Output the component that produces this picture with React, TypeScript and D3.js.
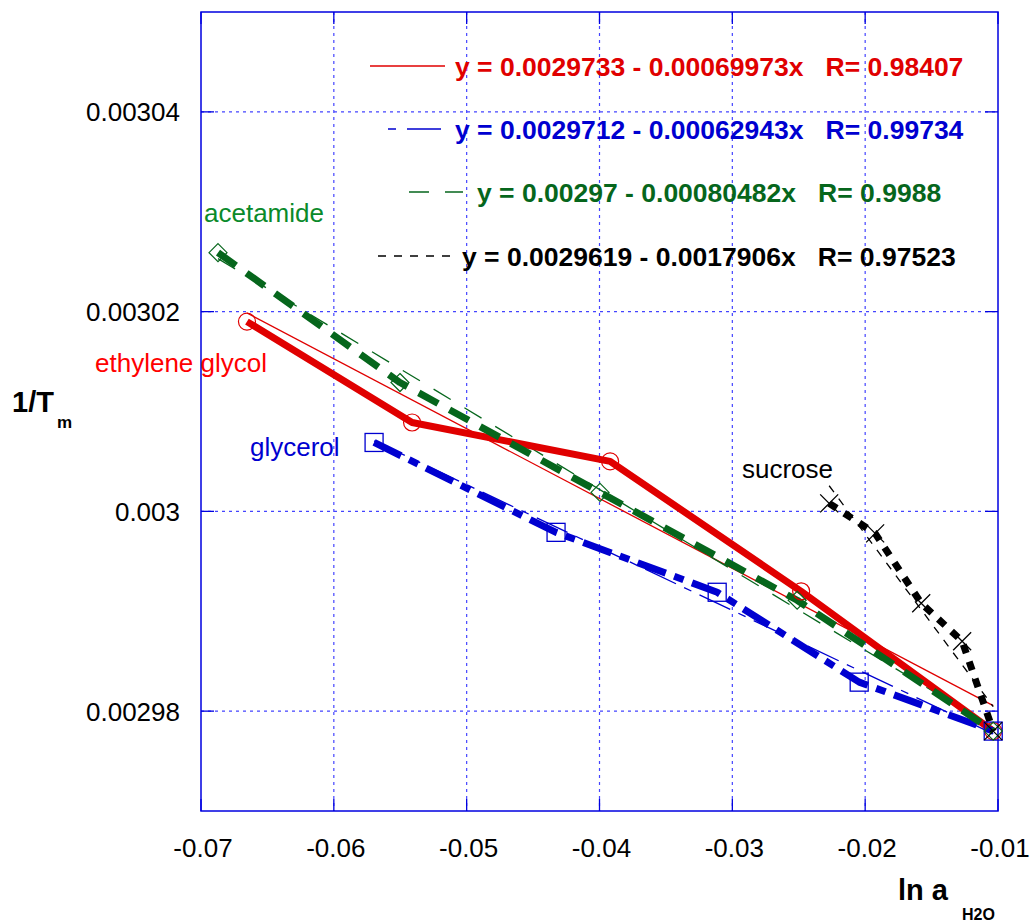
import React from 'react'
import { scaleLinear, line } from 'd3'

// points: ln a(H2O) vs 1/Tm
const glycolX = [-0.06654, -0.05411, -0.0392, -0.02482, -0.01036]
const glycolY = [0.003019, 0.0030089, 0.003005, 0.002992, 0.002978]
const acetamideX = [-0.06872, -0.05502, -0.03996, -0.02512, -0.01036]
const acetamideY = [0.0030259, 0.0030129, 0.0030019, 0.0029911, 0.002978]
const glycerolX = [-0.05697, -0.04327, -0.03114, -0.02045, -0.01036]
const glycerolY = [0.0030069, 0.0029979, 0.0029919, 0.0029829, 0.002978]
const sucroseX = [-0.02271, -0.01925, -0.01578, -0.0127, -0.01036]
const sucroseY = [0.0030008, 0.0029978, 0.0029908, 0.002987, 0.002978]

// linear fits y = a + b x, as printed in the legend
const fitA = [0.0029733, 0.0029712, 0.00297, 0.0029619]
const fitB = [-0.00069973, -0.00062943, -0.00080482, -0.0017906]
const fitR = ['0.98407', '0.99734', '0.9988', '0.97523']

const xTicks = [-0.07, -0.06, -0.05, -0.04, -0.03, -0.02, -0.01]
const yTicks = [0.00298, 0.003, 0.00302, 0.00304]
const yTickLabels = ['0.00298', '0.003', '0.00302', '0.00304']

const W = 1034
const H = 923
const left = 201, right = 998, top = 12, bottom = 811

const RED = '#e00000'
const BLUE = '#0000d0'
const GREEN = '#06661c'
const BLACK = '#000000'
const FONT = '"Liberation Sans", Arial, Helvetica, sans-serif'

const App = () => {
  const x = scaleLinear().domain([-0.07, -0.01]).range([left, right])
  const y = scaleLinear().domain([0.00297, 0.00305]).range([bottom, top])

  const path = line<[number, number]>()
    .x((d) => x(d[0]))
    .y((d) => y(d[1]))

  const zip = (xs: number[], ys: number[]) => xs.map((v, i) => [v, ys[i]] as [number, number])

  const series = [
    { name: 'glycol', xs: glycolX, ys: glycolY, color: RED, dash: null, fitDash: null, marker: 'circle' },
    { name: 'glycerol', xs: glycerolX, ys: glycerolY, color: BLUE, dash: '30 9 10 9', fitDash: '34 9 8 9', marker: 'square' },
    { name: 'acetamide', xs: acetamideX, ys: acetamideY, color: GREEN, dash: '22 13', fitDash: '20 16', marker: 'diamond' },
    { name: 'sucrose', xs: sucroseX, ys: sucroseY, color: BLACK, dash: '9 9', fitDash: '8 8', marker: 'cross' },
  ]

  const fitLine = (i: number) => {
    const s = series[i]
    const x0 = s.xs[0]
    const x1 = s.xs[s.xs.length - 1]
    return path([
      [x0, fitA[i] + fitB[i] * x0],
      [x1, fitA[i] + fitB[i] * x1],
    ])
  }

  const marker = (kind: string, px: number, py: number, color: string, key: string) => {
    if (kind === 'circle') return <circle key={key} cx={px} cy={py} r={8.5} fill='none' stroke={color} strokeWidth={1.2} />
    if (kind === 'square') return <rect key={key} x={px - 9} y={py - 9} width={18} height={18} fill='none' stroke={color} strokeWidth={1.3} />
    if (kind === 'diamond')
      return (
        <path key={key} d={`M${px} ${py - 9}L${px + 9} ${py}L${px} ${py + 9}L${px - 9} ${py}Z`} fill='none' stroke={color} strokeWidth={1.2} />
      )
    return (
      <path key={key} d={`M${px - 9} ${py - 9}L${px + 9} ${py + 9}M${px - 9} ${py + 9}L${px + 9} ${py - 9}`} stroke={color} strokeWidth={1.3} />
    )
  }

  const legend = [
    { color: RED, y: 66, x1: 370, x2: 445, tx: 455, dash: null },
    { color: BLUE, y: 129, x1: 388, x2: 441, tx: 455, dash: '8 11 34 0' },
    { color: GREEN, y: 192, x1: 409, x2: 463, tx: 477, dash: '20 16' },
    { color: BLACK, y: 256, x1: 378, x2: 454, tx: 462, dash: '8 8' },
  ]

  return (
    <svg width={W} height={H} style={{ position: 'absolute', left: 0, top: 0, background: '#fff' }} fontFamily={FONT}>
      {/* grid */}
      <g stroke='#4444ff' strokeWidth={1.2} strokeDasharray='3 4'>
        {xTicks.slice(1, -1).map((t) => (
          <line key={'gx' + t} x1={x(t)} x2={x(t)} y1={top} y2={bottom} />
        ))}
        {yTicks.map((t) => (
          <line key={'gy' + t} x1={left} x2={right} y1={y(t)} y2={y(t)} />
        ))}
      </g>

      {/* frame + inward ticks */}
      <rect x={left} y={top} width={right - left} height={bottom - top} fill='none' stroke='#0000e0' strokeWidth={1.5} />
      <g stroke='#0000e0' strokeWidth={1.3}>
        {xTicks.map((t) => (
          <g key={'tx' + t}>
            <line x1={x(t)} x2={x(t)} y1={bottom} y2={bottom - 12} />
            <line x1={x(t)} x2={x(t)} y1={top} y2={top + 12} />
          </g>
        ))}
        {yTicks.map((t) => (
          <g key={'ty' + t}>
            <line x1={left} x2={left + 13} y1={y(t)} y2={y(t)} />
            <line x1={right} x2={right - 13} y1={y(t)} y2={y(t)} />
          </g>
        ))}
      </g>

      {/* tick labels */}
      <g fontSize={26} fill='#000'>
        {xTicks.map((t) => (
          <text key={'lx' + t} x={x(t) + 2} y={857} textAnchor='middle'>
            {t.toString()}
          </text>
        ))}
        {yTicks.map((t, i) => (
          <text key={'ly' + t} x={180} y={y(t) + 9.5} textAnchor='end'>
            {yTickLabels[i]}
          </text>
        ))}
      </g>

      {/* axis titles */}
      <text x={12} y={412} fontSize={29} fontWeight='bold'>
        1/T
      </text>
      <text x={57} y={428} fontSize={17} fontWeight='bold'>
        m
      </text>
      <text x={898} y={900} fontSize={29} fontWeight='bold'>
        ln a
      </text>
      <text x={962} y={920} fontSize={16} fontWeight='bold'>
        H2O
      </text>

      {/* fit lines (thin) */}
      {series.map((s, i) => (
        <path key={'fit' + s.name} d={fitLine(i) || ''} fill='none' stroke={s.color} strokeWidth={1.3} strokeDasharray={s.fitDash || undefined} />
      ))}

      {/* data lines (thick) */}
      {series.map((s) => (
        <path
          key={'data' + s.name}
          d={path(zip(s.xs, s.ys)) || ''}
          fill='none'
          stroke={s.color}
          strokeWidth={7}
          strokeDasharray={s.dash || undefined}
          strokeLinejoin='round'
        />
      ))}

      {/* markers */}
      {series.map((s) => s.xs.map((v, j) => marker(s.marker, x(v), y(s.ys[j]), s.color, s.name + j)))}

      {/* curve labels */}
      <g fontSize={26}>
        <text x={204} y={222} fill='#0a8a2a'>acetamide</text>
        <text x={95} y={372} fill='#ff0000'>ethylene glycol</text>
        <text x={250} y={456} fill={BLUE}>glycerol</text>
        <text x={742} y={478} fill={BLACK}>sucrose</text>
      </g>

      {/* legend */}
      {legend.map((l, i) => (
        <g key={'leg' + i}>
          <line x1={l.x1} x2={l.x2} y1={l.y} y2={l.y} stroke={l.color} strokeWidth={1.3} strokeDasharray={l.dash || undefined} />
          <text x={l.tx} y={l.y + 9.5} fontSize={26.5} fontWeight='bold' fill={l.color} style={{ whiteSpace: 'pre' }}>
            {`y = ${fitA[i]} - ${-fitB[i]}x   R= ${fitR[i]}`}
          </text>
        </g>
      ))}
    </svg>
  )
}

export default App
